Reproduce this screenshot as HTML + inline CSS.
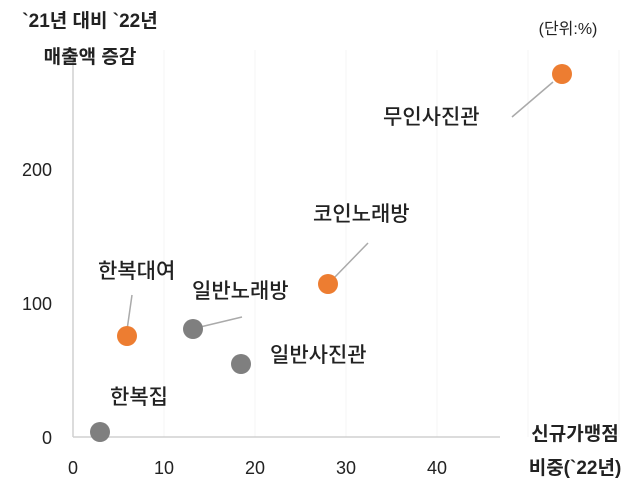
<!DOCTYPE html>
<html><head><meta charset="utf-8"><style>
body{margin:0;background:#fff;}
svg{display:block;font-family:"Liberation Sans","Noto Sans CJK KR",sans-serif;}
</style></head><body>
<svg width="640" height="489" viewBox="0 0 640 489">
<g stroke="#f5f5f5" stroke-width="1">
<line x1="164" y1="50" x2="164" y2="437"/><line x1="255" y1="50" x2="255" y2="437"/>
<line x1="346" y1="50" x2="346" y2="437"/><line x1="437" y1="50" x2="437" y2="437"/>
<line x1="528" y1="50" x2="528" y2="437"/><line x1="619" y1="50" x2="619" y2="437"/>
</g>
<line x1="73" y1="50" x2="73" y2="437" stroke="#d0d0d0" stroke-width="1.5"/>
<line x1="73" y1="437" x2="500" y2="437" stroke="#d0d0d0" stroke-width="1.5"/>
<g font-size="18" fill="#222" text-anchor="middle">
<text x="73" y="474">0</text><text x="164" y="474">10</text><text x="255" y="474">20</text><text x="346" y="474">30</text><text x="437" y="474">40</text>
</g>
<g font-size="18" fill="#222" text-anchor="end">
<text x="52" y="444">0</text><text x="52" y="310">100</text><text x="52" y="176">200</text>
</g>
<g font-size="19" font-weight="bold" fill="#222" text-anchor="middle">
<text x="90" y="27">`21년 대비 `22년</text>
<text x="90" y="63">매출액 증감</text>
<text x="575" y="440">신규가맹점</text>
<text x="575" y="474">비중(`22년)</text>
</g>
<text x="568" y="34" font-size="16" fill="#222" text-anchor="middle">(단위:%)</text>
<g stroke="#aaa" stroke-width="1.5">
<line x1="512" y1="117" x2="553" y2="82"/>
<line x1="368" y1="243" x2="333" y2="279"/>
<line x1="132" y1="295" x2="127" y2="330"/>
<line x1="196" y1="328" x2="242" y2="317"/>
</g>
<g font-size="21" font-weight="500" fill="#222">
<text x="383" y="124">무인사진관</text>
<text x="313" y="221">코인노래방</text>
<text x="98" y="278">한복대여</text>
<text x="192" y="298">일반노래방</text>
<text x="270" y="362">일반사진관</text>
<text x="110" y="404">한복집</text>
</g>
<g fill="#ed7d31">
<circle cx="562" cy="74" r="10"/><circle cx="328" cy="284" r="10"/><circle cx="127" cy="336" r="10"/>
</g>
<g fill="#7f7f7f">
<circle cx="193" cy="329" r="10"/><circle cx="241" cy="364" r="10"/><circle cx="100" cy="432" r="10"/>
</g>
</svg>
</body></html>
